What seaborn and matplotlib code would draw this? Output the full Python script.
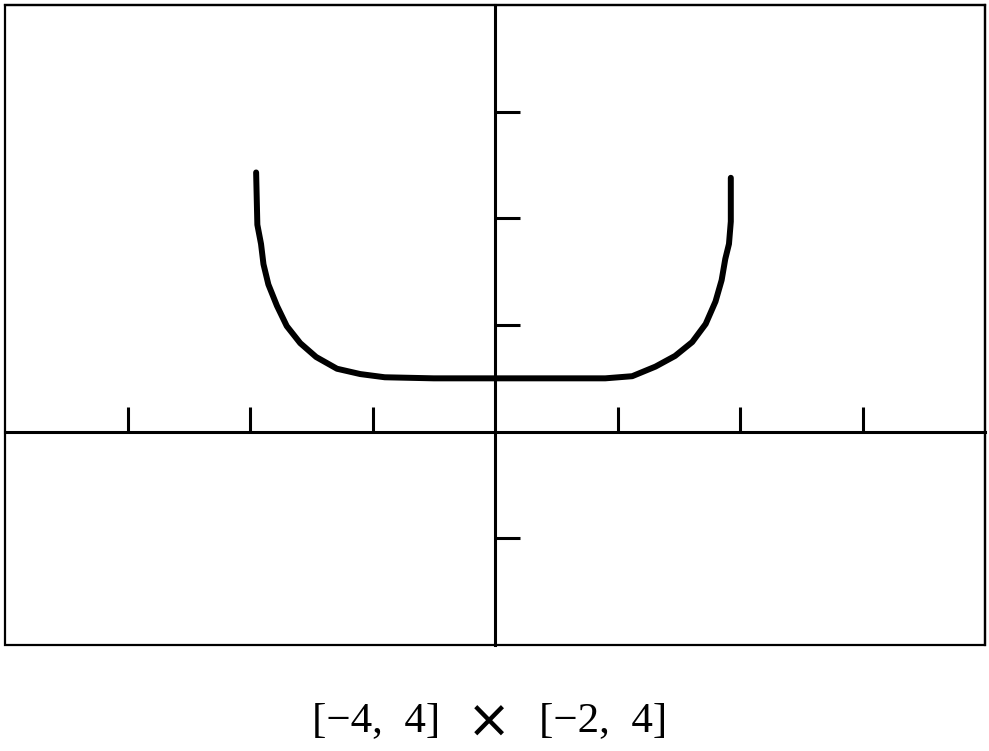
import seaborn as sns
import matplotlib.pyplot as plt
from matplotlib.patches import Rectangle

# points
curve_x = [-1.95, -1.94, -1.91, -1.89, -1.85, -1.78, -1.70, -1.59, -1.46, -1.29, -1.10, -0.90,
           -0.50, 0.0, 0.50, 0.90, 1.12, 1.31, 1.47, 1.61, 1.72, 1.80, 1.85, 1.88, 1.91,
           1.925, 1.925]
curve_y = [2.43, 1.94, 1.76, 1.57, 1.38, 1.18, 0.99, 0.83, 0.70, 0.59, 0.54, 0.51,
           0.50, 0.50, 0.50, 0.50, 0.52, 0.61, 0.71, 0.84, 1.01, 1.22, 1.42, 1.62, 1.76,
           1.97, 2.38]

x_window = [-4, 4]
y_window = [-2, 4]
x_ticks = [-3, -2, -1, 1, 2, 3]
y_ticks = [-1, 1, 2, 3]
caption_left = "[\u22124,  4]"
caption_mid = "\u00d7"
caption_right = "[\u22122,  4]"

sns.set_style("white")
plt.rcParams['font.family'] = ['Liberation Serif', 'DejaVu Serif']

fig = plt.figure(figsize=(9.89, 7.51), dpi=100)
ax = fig.add_axes([5 / 989, 1 - 645 / 751, 980 / 989, 640 / 751])

sns.lineplot(x=curve_x, y=curve_y, sort=False, estimator=None, color="black",
             linewidth=4.3, ax=ax)
for ln in ax.lines:
    ln.set_solid_joinstyle("round")
    ln.set_solid_capstyle("round")

ax.set_xlim(*x_window)
ax.set_ylim(*y_window)

# axes through the origin, ticks pointing inward
ax.spines['left'].set_position(('data', 0))
ax.spines['bottom'].set_position(('data', 0))
for s in ['left', 'bottom']:
    ax.spines[s].set_linewidth(2.2)
    ax.spines[s].set_color("black")
for s in ['top', 'right']:
    ax.spines[s].set_linewidth(1.6)
    ax.spines[s].set_color("black")
ax.add_patch(Rectangle((0, 0), 1, 1, transform=ax.transAxes, fill=False,
                       edgecolor="black", linewidth=1.6, clip_on=False))

ax.set_xticks(x_ticks)
ax.set_yticks(y_ticks)
ax.tick_params(axis='both', colors="black")
ax.tick_params(axis='x', direction='in', length=18, width=2.2, labelbottom=False, bottom=True)
ax.tick_params(axis='y', direction='in', length=18, width=2.2, labelleft=False, left=True)

base = 1 - 731 / 751
fig.text(376 / 989, base, caption_left, ha='center', va='baseline', fontsize=31, color="black")
fig.text(489 / 989, 1 - 738 / 751, caption_mid, ha='center', va='baseline', fontsize=38,
         family=['DejaVu Sans'], color="black")
fig.text(603 / 989, base, caption_right, ha='center', va='baseline', fontsize=31, color="black")

fig.savefig("out.png", dpi=100, facecolor="white")
